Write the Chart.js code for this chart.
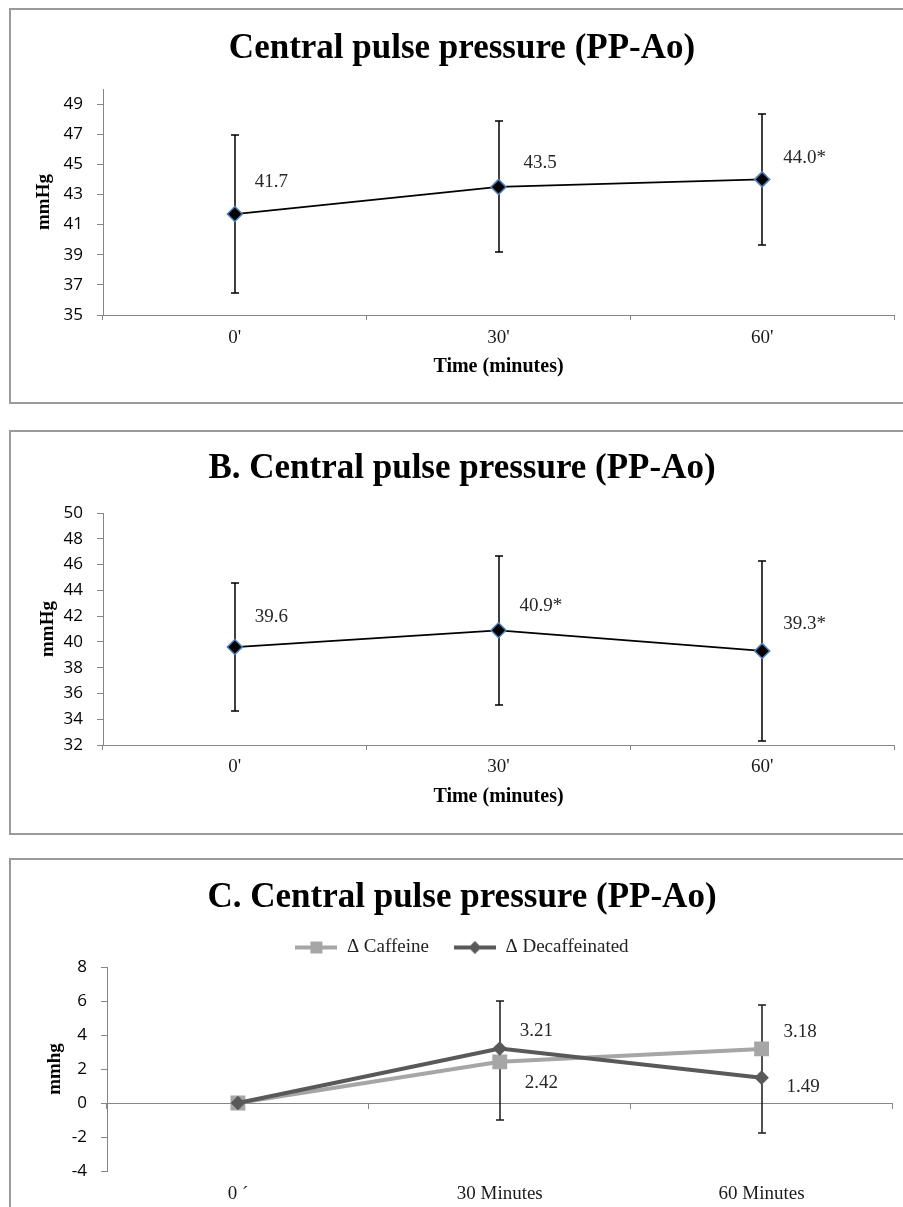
<!DOCTYPE html>
<html><head><meta charset="utf-8">
<script src="https://cdn.jsdelivr.net/npm/chart.js@4.4.1/dist/chart.umd.min.js"></script>
<style>
html,body{margin:0;padding:0;background:#fff;}
body{width:903px;height:1207px;overflow:hidden;position:relative;}
.box{position:absolute;left:9px;width:892px;border:2px solid #9a9a9a;background:#fff;}
.box canvas{display:block;}
</style></head><body>
<div class="box" style="top:8px;height:392px"><canvas id="cA" width="892" height="392" style="width:892px;height:392px"></canvas></div>
<div class="box" style="top:430px;height:401px"><canvas id="cB" width="892" height="401" style="width:892px;height:401px"></canvas></div>
<div class="box" style="top:858px;height:400px"><canvas id="cC" width="892" height="400" style="width:892px;height:400px"></canvas></div>
<script>
// ---------- data ----------
const titleA = "Central pulse pressure (PP-Ao)";
const titleB = "B. Central pulse pressure (PP-Ao)";
const titleC = "C. Central pulse pressure (PP-Ao)";

const labelsAB = ["0'", "30'", "60'"];
const valuesA = [41.7, 43.5, 44.0];
const errA = [5.25, 4.35, 4.33];
const pointTextA = ["41.7", "43.5", "44.0*"];
const yTicksA = [35, 37, 39, 41, 43, 45, 47, 49];

const valuesB = [39.6, 40.9, 39.3];
const errB = [4.95, 5.78, 7.0];
const pointTextB = ["39.6", "40.9*", "39.3*"];
const yTicksB = [32, 34, 36, 38, 40, 42, 44, 46, 48, 50];

const labelsC = ["0 \u00B4", "30 Minutes", "60 Minutes"];
const seriesNamesC = ["\u0394 Caffeine", "\u0394 Decaffeinated"];
const caffeineC = [0, 2.42, 3.18];
const decafC = [0, 3.21, 1.49];
const errHighC = [null, 6.0, 5.77];
const errLowC = [null, -0.98, -1.76];
const pointTextCaf = [null, "2.42", "3.18"];
const pointTextDecaf = [null, "3.21", "1.49"];
const yTicksC = [-4, -2, 0, 2, 4, 6, 8];

// ---------- styles ----------
const SERIF = "'Liberation Serif', 'Times New Roman', serif";
const SANS = "'Open Sans', 'Liberation Sans', sans-serif";
const AXIS = '#868686';

// ---------- plugins ----------
const errorBarPlugin = {
  id: 'errorBars',
  beforeDatasetsDraw(chart, args, opts) {
    if (!opts || !opts.bars) return;
    const {ctx, scales} = chart;
    ctx.save();
    ctx.strokeStyle = opts.color || '#000';
    ctx.lineWidth = opts.width || 1.5;
    const cap = opts.cap || 4;
    opts.bars.forEach(b => {
      if (!b) return;
      const px = Math.round(scales.x.getPixelForValue(b.index));
      const yt = Math.round(scales.y.getPixelForValue(b.high));
      const yb = Math.round(scales.y.getPixelForValue(b.low));
      ctx.beginPath();
      ctx.moveTo(px, yt); ctx.lineTo(px, yb);
      ctx.moveTo(px - cap, yt); ctx.lineTo(px + cap, yt);
      ctx.moveTo(px - cap, yb); ctx.lineTo(px + cap, yb);
      ctx.stroke();
    });
    ctx.restore();
  }
};
const pointLabelPlugin = {
  id: 'pointLabels',
  afterDatasetsDraw(chart, args, opts) {
    if (!opts || !opts.items) return;
    const ctx = chart.ctx;
    ctx.save();
    ctx.font = opts.font;
    ctx.fillStyle = opts.color;
    ctx.textAlign = 'left';
    ctx.textBaseline = 'middle';
    opts.items.forEach(it => {
      if (!it || it.text == null) return;
      const el = chart.getDatasetMeta(it.dataset).data[it.index];
      ctx.fillText(it.text, el.x + it.dx, el.y + it.dy);
    });
    ctx.restore();
  }
};

function buildScales(o) {
  return {
    x: {
      type: 'category', offset: true,
      grid: {display: o.xTicksMarks, offset: true, drawOnChartArea: false, drawTicks: o.xTicksMarks, tickLength: 5, color: AXIS, lineWidth: 1},
      border: {display: o.xBorder, color: AXIS, width: 1},
      ticks: {font: {family: SERIF, size: 19}, color: '#1a1a1a', padding: o.xPad, maxRotation: 0, autoSkip: false},
      title: o.xTitle ? {display: true, text: o.xTitle, font: {family: SERIF, size: 20, weight: 'bold'}, color: '#000', padding: {top: 0, bottom: o.xTitlePad}} : {display: false},
      afterFit: s => { s.height = o.xHeight; }
    },
    y: {
      type: 'linear', min: o.yMin, max: o.yMax,
      afterBuildTicks: s => { s.ticks = o.yTicks.map(v => ({value: v})); },
      grid: {display: true, drawOnChartArea: false, drawTicks: true, tickLength: 6, color: AXIS, lineWidth: 1},
      border: {display: true, color: AXIS, width: 1},
      ticks: {font: {family: SANS, size: 17}, color: '#000', padding: 14},
      title: {display: true, text: o.yTitle, font: {family: SERIF, size: 19, weight: 'bold'}, color: '#000', padding: {top: o.yTitlePad, bottom: 0}},
      afterFit: s => { s.width = o.yWidth; }
    }
  };
}

function errBars(values, errs) {
  return values.map((v, i) => ({index: i, high: v + errs[i], low: v - errs[i]}));
}
function labelItems(texts, ds, offsets) {
  return texts.map((t, i) => t == null ? null : ({text: t, dataset: ds, index: i, dx: offsets[i][0], dy: offsets[i][1]}));
}

function simpleChart(id, title, titlePad, values, errs, texts, offsets, o) {
  return new Chart(document.getElementById(id), {
    type: 'line',
    data: {
      labels: labelsAB,
      datasets: [{
        data: values,
        borderColor: '#000', borderWidth: 1.75, tension: 0, fill: false,
        pointStyle: 'rectRot', pointRadius: 7.5, pointBackgroundColor: '#000',
        pointBorderColor: '#4F81BD', pointBorderWidth: 1.5
      }]
    },
    options: {
      responsive: false, animation: false, devicePixelRatio: 1,
      layout: {padding: {left: 19, right: 9, top: 0, bottom: 0}},
      plugins: {
        legend: {display: false}, tooltip: {enabled: false},
        title: {display: true, text: title, font: {family: SERIF, size: 35, weight: 'bold'}, color: '#000', padding: titlePad},
        errorBars: {bars: errBars(values, errs), color: '#000', width: 1.5, cap: 4},
        pointLabels: {items: labelItems(texts, 0, offsets), font: '19px ' + SERIF, color: '#262626'}
      },
      scales: buildScales(o)
    },
    plugins: [errorBarPlugin, pointLabelPlugin]
  });
}

function swatch(color, style) {
  const c = document.createElement('canvas');
  c.width = 42; c.height = 16;
  const g = c.getContext('2d');
  g.strokeStyle = color; g.lineWidth = 4;
  g.beginPath(); g.moveTo(0, 8); g.lineTo(42, 8); g.stroke();
  g.fillStyle = color;
  g.beginPath();
  if (style === 'rect') { g.rect(15, 2, 12, 12); }
  else { g.moveTo(21, 1.5); g.lineTo(27.5, 8); g.lineTo(21, 14.5); g.lineTo(14.5, 8); g.closePath(); }
  g.fill();
  return c;
}

function build() {
  simpleChart('cA', titleA, {top: 18, bottom: 19}, valuesA, errA, pointTextA,
    [[20, -32], [25, -24], [21, -21]],
    {xTicksMarks: true, xBorder: true, xPad: 7, xTitle: 'Time (minutes)', xTitlePad: 23, xHeight: 87,
     yMin: 35, yMax: 50, yTicks: yTicksA, yTitle: 'mmHg', yTitlePad: 3, yWidth: 73});

  simpleChart('cB', titleB, {top: 16, bottom: 23}, valuesB, errB, pointTextB,
    [[20, -30], [21, -24], [21, -27]],
    {xTicksMarks: true, xBorder: true, xPad: 6, xTitle: 'Time (minutes)', xTitlePad: 24, xHeight: 88,
     yMin: 32, yMax: 50, yTicks: yTicksB, yTitle: 'mmHg', yTitlePad: 7, yWidth: 73});

  const colCaf = '#A6A6A6', colDec = '#595959';
  const scalesC = buildScales({xTicksMarks: false, xBorder: false, xPad: 12, xTitle: null, xHeight: 89,
     yMin: -4, yMax: 8, yTicks: yTicksC, yTitle: 'mmhg', yTitlePad: 14, yWidth: 77});
  scalesC.x2 = {
    type: 'category', axis: 'x', position: {y: 0}, offset: true,
    grid: {display: true, offset: true, drawOnChartArea: false, drawTicks: true, tickLength: 5, color: AXIS, lineWidth: 1},
    border: {display: true, color: AXIS, width: 1},
    ticks: {display: false},
    afterFit: s => { s.height = 0; }
  };
  const swCaf = swatch(colCaf, 'rect'), swDec = swatch(colDec, 'rectRot');
  new Chart(document.getElementById('cC'), {
    type: 'line',
    data: {
      labels: labelsC,
      datasets: [
        {label: seriesNamesC[0], data: caffeineC, order: 2, borderColor: colCaf, backgroundColor: colCaf, borderWidth: 4, tension: 0,
         pointStyle: 'rect', pointRadius: 10.5, pointBorderWidth: 0, pointBackgroundColor: colCaf},
        {label: seriesNamesC[1], data: decafC, order: 1, borderColor: colDec, backgroundColor: colDec, borderWidth: 4, tension: 0,
         pointStyle: 'rectRot', pointRadius: 7.3, pointBorderWidth: 0, pointBackgroundColor: colDec}
      ]
    },
    options: {
      responsive: false, animation: false, devicePixelRatio: 1,
      layout: {padding: {left: 19, right: 9, top: 0, bottom: 0}},
      plugins: {
        tooltip: {enabled: false},
        title: {display: true, text: titleC, font: {family: SERIF, size: 35, weight: 'bold'}, color: '#000', padding: {top: 17, bottom: -6}},
        legend: {
          display: true, position: 'top',
          labels: {
            usePointStyle: true, pointStyleWidth: 42, padding: 25,
            font: {family: SERIF, size: 19}, color: '#222',
            generateLabels: () => [
              {text: seriesNamesC[0], pointStyle: swCaf, datasetIndex: 0, fillStyle: colCaf, strokeStyle: colCaf, lineWidth: 0, hidden: false, fontColor: '#222'},
              {text: seriesNamesC[1], pointStyle: swDec, datasetIndex: 1, fillStyle: colDec, strokeStyle: colDec, lineWidth: 0, hidden: false, fontColor: '#222'}
            ]
          }
        },
        errorBars: {bars: errHighC.map((h, i) => h == null ? null : ({index: i, high: h, low: errLowC[i]})), color: '#1a1a1a', width: 1.5, cap: 4},
        pointLabels: {
          items: labelItems(pointTextDecaf, 1, [[0,0],[20,-17],[25,9]]).concat(labelItems(pointTextCaf, 0, [[0,0],[25,21],[22,-17]])),
          font: '19px ' + SERIF, color: '#262626'
        }
      },
      scales: scalesC
    },
    plugins: [errorBarPlugin, pointLabelPlugin]
  });
}

const fontLoads = ['17px "Open Sans"', '19px "Liberation Serif"', 'bold 19px "Liberation Serif"'].map(f => document.fonts.load(f).catch(() => null));
Promise.race([Promise.all(fontLoads), new Promise(r => setTimeout(r, 800))]).then(build);
</script>
</body></html>
